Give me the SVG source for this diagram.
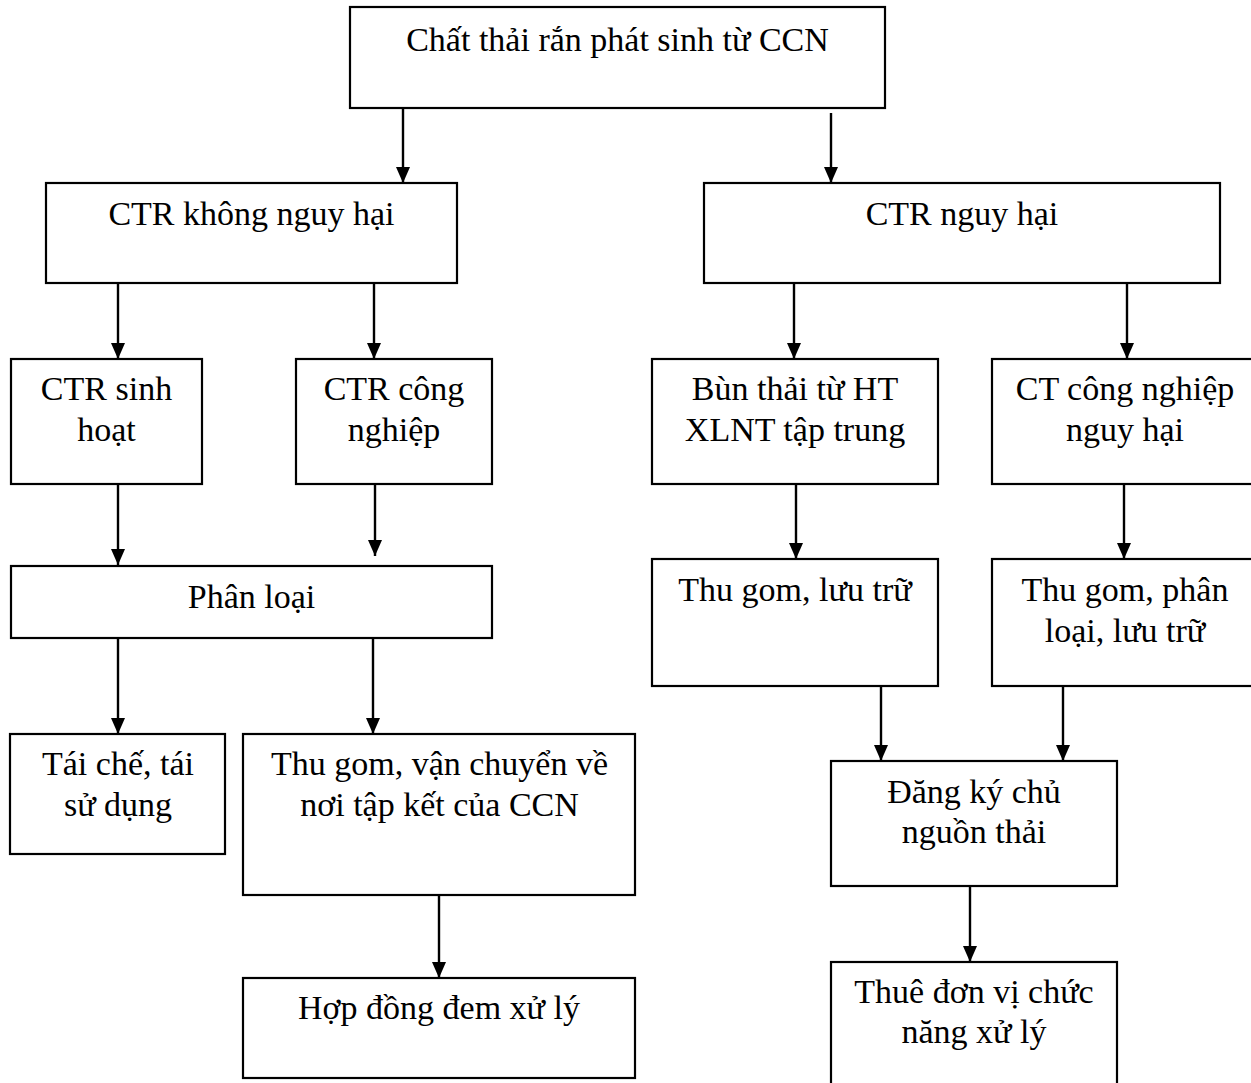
<svg xmlns="http://www.w3.org/2000/svg" width="1251" height="1083" viewBox="0 0 1251 1083">
  <defs>
    <style>
      .box { fill: #fff; stroke: #000; stroke-width: 2.2; }
      .lbl { font-family: "Liberation Serif", "Times New Roman", serif; font-size: 34px; fill: #000; text-anchor: middle; }
      .conn { stroke: #000; stroke-width: 2.4; fill: none; marker-end: url(#arrow); }
    </style>
    <marker id="arrow" markerUnits="userSpaceOnUse" markerWidth="16" markerHeight="14" refX="16" refY="7" orient="auto">
      <path d="M0,0 L16,7 L0,14 z" fill="#000"/>
    </marker>
  </defs>

  <rect width="1251" height="1083" fill="#fff"/>

  <!-- connectors -->
  <g id="connectors">
    <line class="conn" x1="403" y1="108" x2="403" y2="183"/>
    <line class="conn" x1="831" y1="113" x2="831" y2="183"/>
    <line class="conn" x1="118" y1="283" x2="118" y2="359"/>
    <line class="conn" x1="374" y1="283" x2="374" y2="359"/>
    <line class="conn" x1="794" y1="283" x2="794" y2="359"/>
    <line class="conn" x1="1127" y1="283" x2="1127" y2="359"/>
    <line class="conn" x1="118" y1="484" x2="118" y2="565"/>
    <line class="conn" x1="375" y1="482" x2="375" y2="556"/>
    <line class="conn" x1="796" y1="484" x2="796" y2="559"/>
    <line class="conn" x1="1124" y1="484" x2="1124" y2="559"/>
    <line class="conn" x1="118" y1="638" x2="118" y2="734"/>
    <line class="conn" x1="373" y1="638" x2="373" y2="734"/>
    <line class="conn" x1="881" y1="686" x2="881" y2="761"/>
    <line class="conn" x1="1063" y1="686" x2="1063" y2="761"/>
    <line class="conn" x1="439" y1="882" x2="439" y2="978"/>
    <line class="conn" x1="970" y1="886" x2="970" y2="962"/>
  </g>

  <!-- nodes -->
  <g id="n-source">
    <rect class="box" x="350" y="7" width="535" height="101"/>
    <text class="lbl" x="617.5" y="51">Chất thải rắn phát sinh từ CCN</text>
  </g>
  <g id="n-non-hazardous">
    <rect class="box" x="46" y="183" width="411" height="100"/>
    <text class="lbl" x="251.5" y="225">CTR không nguy hại</text>
  </g>
  <g id="n-hazardous">
    <rect class="box" x="704" y="183" width="516" height="100"/>
    <text class="lbl" x="962" y="225">CTR nguy hại</text>
  </g>
  <g id="n-domestic">
    <rect class="box" x="11" y="359" width="191" height="125"/>
    <text class="lbl" x="106.5" y="400">CTR sinh</text>
    <text class="lbl" x="106.5" y="441">hoạt</text>
  </g>
  <g id="n-industrial">
    <rect class="box" x="296" y="359" width="196" height="125"/>
    <text class="lbl" x="394" y="400">CTR công</text>
    <text class="lbl" x="394" y="441">nghiệp</text>
  </g>
  <g id="n-sludge">
    <rect class="box" x="652" y="359" width="286" height="125"/>
    <text class="lbl" x="795" y="400">Bùn thải từ HT</text>
    <text class="lbl" x="795" y="441">XLNT tập trung</text>
  </g>
  <g id="n-industrial-hazardous">
    <rect class="box" x="992" y="359" width="266" height="125"/>
    <text class="lbl" x="1125" y="400">CT công nghiệp</text>
    <text class="lbl" x="1125" y="441">nguy hại</text>
  </g>
  <g id="n-sorting">
    <rect class="box" x="11" y="566" width="481" height="72"/>
    <text class="lbl" x="251.5" y="608">Phân loại</text>
  </g>
  <g id="n-collect-store">
    <rect class="box" x="652" y="559" width="286" height="127"/>
    <text class="lbl" x="795" y="601">Thu gom, lưu trữ</text>
  </g>
  <g id="n-collect-sort-store">
    <rect class="box" x="992" y="559" width="266" height="127"/>
    <text class="lbl" x="1125" y="601">Thu gom, phân</text>
    <text class="lbl" x="1125" y="642">loại, lưu trữ</text>
  </g>
  <g id="n-recycle">
    <rect class="box" x="10" y="734" width="215" height="120"/>
    <text class="lbl" x="118" y="775">Tái chế, tái</text>
    <text class="lbl" x="118" y="816">sử dụng</text>
  </g>
  <g id="n-transport">
    <rect class="box" x="243" y="734" width="392" height="161"/>
    <text class="lbl" x="439.5" y="775">Thu gom, vận chuyển về</text>
    <text class="lbl" x="439.5" y="816">nơi tập kết của CCN</text>
  </g>
  <g id="n-register">
    <rect class="box" x="831" y="761" width="286" height="125"/>
    <text class="lbl" x="974" y="803">Đăng ký chủ</text>
    <text class="lbl" x="974" y="843">nguồn thải</text>
  </g>
  <g id="n-contract">
    <rect class="box" x="243" y="978" width="392" height="100"/>
    <text class="lbl" x="439" y="1019">Hợp đồng đem xử lý</text>
  </g>
  <g id="n-outsource">
    <rect class="box" x="831" y="962" width="286" height="130"/>
    <text class="lbl" x="974" y="1003">Thuê đơn vị chức</text>
    <text class="lbl" x="974" y="1043">năng xử lý</text>
  </g>
</svg>
